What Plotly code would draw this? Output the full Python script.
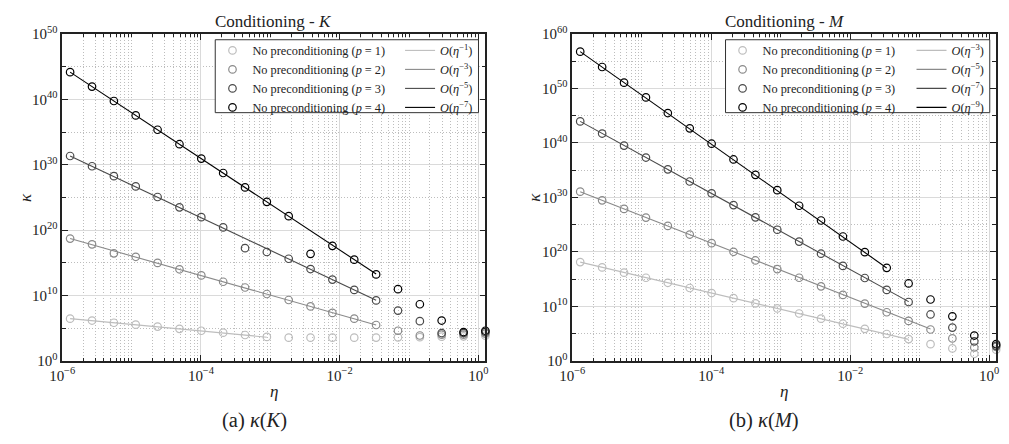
import numpy as np
import plotly.graph_objects as go

W, H = 1009, 444

# ---------------- data ----------------
eta = [1.30e-6, 2.69e-6, 5.56e-6, 1.148e-5, 2.37e-5, 4.90e-5, 1.012e-4, 2.09e-4,
       4.32e-4, 8.91e-4, 1.84e-3, 3.80e-3, 7.85e-3, 1.62e-2, 3.35e-2, 6.92e-2,
       0.143, 0.295, 0.610, 1.259]

# kappa(K), no preconditioning, p = 1..4
K_p1 = [2.88e6, 1.48e6, 6.76e5, 3.47e5, 1.74e5, 7.94e4, 4.07e4, 2.09e4, 9.12e3, 4.68e3,
        3.55e3, 3.55e3, 3.55e3, 3.55e3, 3.63e3, 3.98e3, 4.17e3, 5.01e3, 5.62e3, 7.08e3]
K_p2 = [5.13e18, 6.76e17, 2.82e16, 8.32e15, 9.55e14, 1.02e14, 1.17e13, 1.26e12, 1.66e11, 1.70e10,
        2.04e9, 2.14e8, 2.19e7, 2.88e6, 3.09e5, 4.07e4, 7.59e3, 1.05e4, 1.05e4, 1.48e4]
K_p3 = [2.19e31, 5.89e29, 1.78e28, 4.79e26, 1.17e25, 3.09e23, 9.55e21, 2.57e20, 1.74e17, 4.47e16,
        4.17e15, 1.12e14, 2.69e12, 7.24e10, 1.78e9, 4.90e7, 1.20e6, 1.82e4, 1.82e4, 2.57e4]
K_p4 = [1.45e44, 8.91e41, 5.62e39, 3.55e37, 2.24e35, 1.38e33, 8.71e30, 5.50e28, 3.39e26, 2.14e24,
        1.35e22, 2.29e16, 3.98e17, 3.02e15, 1.66e13, 9.33e10, 4.57e8, 1.48e6, 2.57e4, 4.07e4]

# kappa(M), no preconditioning, p = 1..4
M_p1 = [1.35e18, 1.41e17, 1.58e16, 1.82e15, 2.14e14, 2.40e13, 2.82e12, 3.24e11, 3.63e10, 4.27e9,
        5.01e8, 5.62e7, 6.61e6, 7.59e5, 8.51e4, 1.00e4, 1.15e3, 1.95e2, 2.00e1, 1.15e2]
M_p2 = [1.15e31, 2.95e29, 7.76e27, 2.00e26, 5.89e24, 1.55e23, 3.98e21, 1.05e20, 2.69e18, 7.08e16,
        1.82e15, 4.79e13, 1.26e12, 3.24e10, 8.51e8, 2.19e7, 5.75e5, 1.32e4, 2.88e2, 3.80e2]
M_p3 = [9.12e43, 5.37e41, 3.24e39, 2.09e37, 1.45e35, 8.32e32, 5.75e30, 3.89e28, 2.24e26, 1.17e24,
        7.94e21, 4.68e19, 2.69e17, 1.62e15, 1.07e13, 6.46e10, 3.31e8, 1.29e6, 3.89e3, 5.75e2]
M_p4 = [5.75e56, 8.71e53, 1.15e51, 2.29e48, 3.09e45, 4.79e42, 7.24e39, 9.33e36, 1.41e34, 2.19e31,
        2.95e28, 5.89e25, 6.76e22, 9.12e19, 1.20e17, 1.62e14, 1.86e11, 1.48e8, 4.47e4, 1.15e3]

# reference slopes O(eta^-k) and number of leading points they cover
K_orders = [1, 3, 5, 7]
K_fit_n = [10, 15, 15, 15]
M_orders = [3, 5, 7, 9]
M_fit_n = [16, 17, 16, 15]

p_labels = ["1", "2", "3", "4"]
K_ticks_y = [1e0, 1e10, 1e20, 1e30, 1e40, 1e50]
M_ticks_y = [1e0, 1e10, 1e20, 1e30, 1e40, 1e50, 1e60]
x_ticks = [1e-6, 1e-4, 1e-2, 1e0]

# ---------------- styling ----------------
colors = ["#bdbdbd", "#8a8a8a", "#4a4a4a", "#000000"]
FONT = "Liberation Serif, Times New Roman, serif"
TXT = "#222222"


def sup_label(v):
    e = int(round(np.log10(v)))
    s = str(e).replace("-", "\u2212")
    return "10<sup>%s</sup>" % s


fig = go.Figure()

panels = [
    dict(xa="x", ya="y", data=[K_p1, K_p2, K_p3, K_p4], orders=K_orders, fit_n=K_fit_n,
         leg_m="legend", leg_l="legend2"),
    dict(xa="x2", ya="y2", data=[M_p1, M_p2, M_p3, M_p4], orders=M_orders, fit_n=M_fit_n,
         leg_m="legend3", leg_l="legend4"),
]

eta_arr = np.array(eta)
for pan in panels:
    # marker traces (left legend column)
    for i, series in enumerate(pan["data"]):
        fig.add_trace(go.Scatter(
            x=eta, y=series, mode="markers", xaxis=pan["xa"], yaxis=pan["ya"],
            marker=dict(symbol="circle-open", size=7.5, color=colors[i],
                        line=dict(width=1.2, color=colors[i])),
            cliponaxis=False,
            name="No preconditioning (<i>p</i> = %s)" % p_labels[i],
            legend=pan["leg_m"], showlegend=True))
    # reference lines (right legend column)
    for i, series in enumerate(pan["data"]):
        n = pan["fit_n"][i]
        k = pan["orders"][i]
        xs = eta_arr[:n]
        ys = series[0] * (xs / xs[0]) ** (-k)
        fig.add_trace(go.Scatter(
            x=xs, y=ys, mode="lines", xaxis=pan["xa"], yaxis=pan["ya"],
            line=dict(color=colors[i], width=1.1),
            name="<i>O</i>(<i>\u03b7</i><sup>\u2212%d</sup>)" % k,
            legend=pan["leg_l"], showlegend=True))

# minor tick positions
x_minor = []
for d in range(-6, 1):
    for m in range(1, 10):
        v = m * 10.0 ** d
        if v not in x_ticks and v <= eta[-1]:
            x_minor.append(v)

xmax = np.log10(eta[-1])
DOT = "1px,2px"


def xaxis_cfg(domain):
    return dict(
        type="log", domain=domain, range=[-6, xmax],
        tickmode="array", tickvals=x_ticks, ticktext=[sup_label(v) for v in x_ticks],
        ticks="inside", ticklen=6, tickwidth=1, tickcolor="#222",
        showline=True, linecolor="#222", linewidth=1.5, mirror="allticks",
        showgrid=True, gridcolor="#dadada", gridwidth=1,
        zeroline=False,
        tickfont=dict(family=FONT, size=15, color=TXT),
        minor=dict(tickmode="array", tickvals=x_minor, ticks="inside", ticklen=3,
                   tickcolor="#222", showgrid=True, gridcolor="#bdbdbd",
                   griddash=DOT, gridwidth=1),
    )


def yaxis_cfg(domain, ticks, anchor):
    top = np.log10(ticks[-1])
    ymin_minor = [10.0 ** (e + 5) for e in range(0, int(top), 10)]
    return dict(
        type="log", domain=domain, range=[0, top], anchor=anchor,
        tickmode="array", tickvals=ticks, ticktext=[sup_label(v) for v in ticks],
        ticks="inside", ticklen=6, tickwidth=1, tickcolor="#222",
        showline=True, linecolor="#222", linewidth=1.5, mirror="allticks",
        showgrid=True, gridcolor="#dadada", gridwidth=1,
        zeroline=False,
        tickfont=dict(family=FONT, size=15, color=TXT),
        minor=dict(tickmode="array", tickvals=ymin_minor, ticks="inside", ticklen=4,
                   tickcolor="#222", showgrid=True, gridcolor="#bdbdbd",
                   griddash=DOT, gridwidth=1),
    )


L = [50, 480]
R = [568.3, 999]
Y = [25, 365.7]
xd1 = [L[0] / W, L[1] / W]
xd2 = [R[0] / W, R[1] / W]
yd = [1 - Y[1] / H, 1 - Y[0] / H]


def py(v):
    return 1 - v / H


def px(v):
    return v / W


leg_font = dict(family=FONT, size=12.3, color=TXT)
leg_common = dict(font=leg_font, bgcolor="rgba(0,0,0,0)", borderwidth=0,
                  xanchor="left", yanchor="top", y=py(27), orientation="v",
                  xref="paper", yref="paper")

annotations = []


def ann(text, x, y, size=16, angle=0):
    annotations.append(dict(text=text, x=px(x), y=py(y), xref="paper", yref="paper",
                            xanchor="center", yanchor="middle", showarrow=False,
                            textangle=angle,
                            font=dict(family=FONT, size=size, color=TXT)))


ann("Conditioning - <i>K</i>", 265, 12, 17)
ann("Conditioning - <i>M</i>", 783.5, 12, 17)
ann("<i>\u03b7</i>", 265, 398, 17)
ann("<i>\u03b7</i>", 783.5, 398, 17)
ann("<i>\u03ba</i>", 12, 195, 17, -90)
ann("<i>\u03ba</i>", 529, 195, 17, -90)
ann("(a) <i>\u03ba</i>(<i>K</i>)", 245, 428, 20.5)
ann("(b) <i>\u03ba</i>(<i>M</i>)", 763, 428, 20.5)

shapes = [
    dict(type="rect", xref="paper", yref="paper", layer="above",
         x0=px(205.5), x1=px(473), y0=py(31), y1=py(107),
         fillcolor="white", line=dict(color="#333", width=1)),
    dict(type="rect", xref="paper", yref="paper", layer="above",
         x0=px(724), x1=px(992.5), y0=py(31), y1=py(107),
         fillcolor="white", line=dict(color="#333", width=1)),
]

fig.update_layout(
    width=W, height=H,
    margin=dict(l=0, r=0, t=0, b=0),
    paper_bgcolor="white", plot_bgcolor="white",
    font=dict(family=FONT, color=TXT),
    xaxis=xaxis_cfg(xd1) | dict(anchor="y"),
    yaxis=yaxis_cfg(yd, K_ticks_y, "x"),
    xaxis2=xaxis_cfg(xd2) | dict(anchor="y2"),
    yaxis2=yaxis_cfg(yd, M_ticks_y, "x2"),
    legend=dict(leg_common, x=px(202.7)),
    legend2=dict(leg_common, x=px(393.3)),
    legend3=dict(leg_common, x=px(721)),
    legend4=dict(leg_common, x=px(913)),
    annotations=annotations,
    shapes=shapes,
)

fig.write_html("out.html")
